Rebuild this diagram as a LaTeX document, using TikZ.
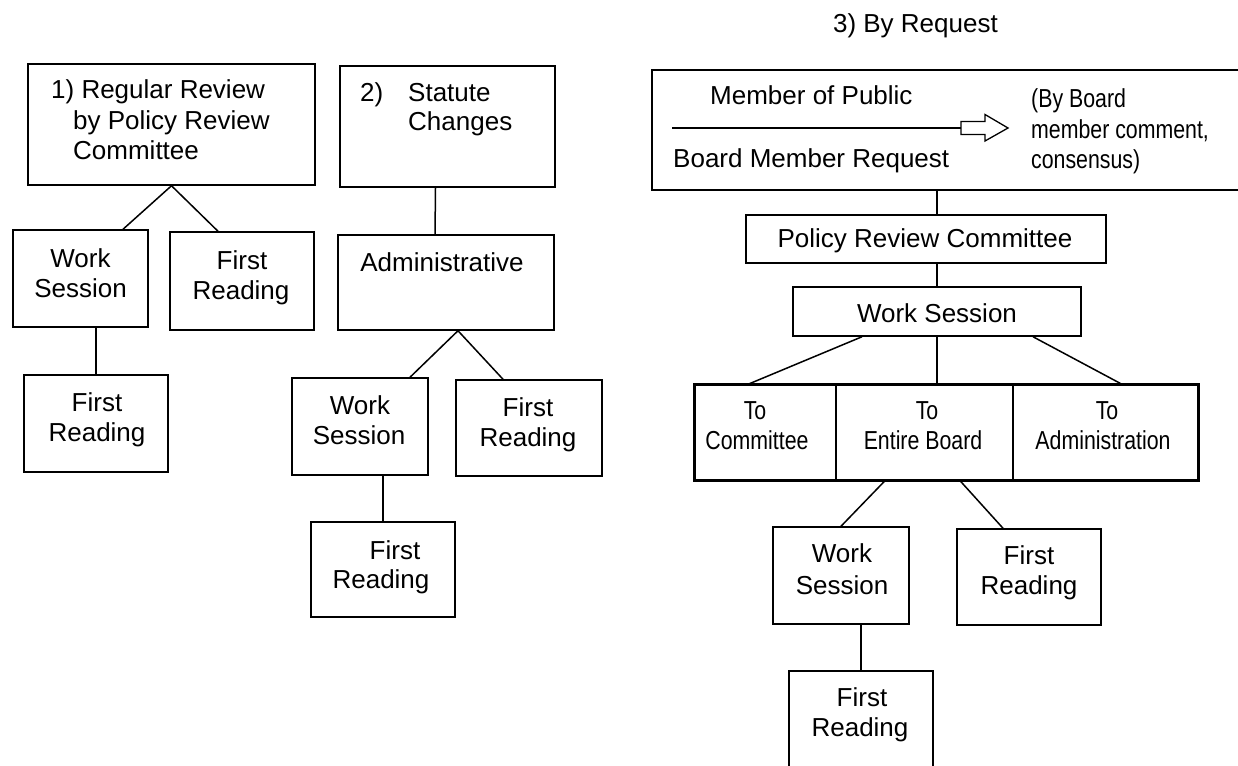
\documentclass[tikz,border=0pt]{standalone}
\usepackage{fontspec}
\setmainfont{Liberation Sans}
\newfontfamily\narrowfam[FakeStretch=0.82]{Liberation Sans}
\usetikzlibrary{calc}
\begin{document}
\begin{tikzpicture}[x=1pt,y=-1pt,
  box/.style 2 args={draw,line width=1.5pt,inner sep=0pt,minimum width=#1,minimum height=#2},
  frame/.style 2 args={inner sep=0pt,minimum width=#1,minimum height=#2},
  cell/.style 2 args={draw,line width=1.4pt,inner sep=0pt,minimum width=#1,minimum height=#2},
  conn/.style={line width=1.5pt},
  tc/.style={inner sep=0pt,anchor=base,font=\fontsize{26}{31}\selectfont},
  tl/.style={inner sep=0pt,anchor=base west,font=\fontsize{26}{31}\selectfont},
  nc/.style={inner sep=0pt,anchor=base,font=\narrowfam\fontsize{26}{30}\selectfont},
  nl/.style={inner sep=0pt,anchor=base west,font=\narrowfam\fontsize{26}{30}\selectfont}]
\useasboundingbox (0,0) rectangle (1238,765);
\fill[white] (0,0) rectangle (1238,765);

% ---------- group 1 ----------
\node[box={287pt}{121pt}] (b1) at (171.5,124.5) {};
\node[tl] (t1a) at (51,99) {1) Regular Review};
\node[tl] (t1b) at (73,129) {by Policy Review};
\node[tl] (t1c) at (73,159) {Committee};

\node[box={135pt}{97pt}] (ws1) at (80.5,278.5) {};
\node[tc] (ws1a) at (80.5,267) {Work};
\node[tc] (ws1b) at (80.5,297) {Session};

\node[box={144pt}{98pt}] (fr1a) at (242,281) {};
\node[tc] (fr1aa) at (242,269) {First};
\node[tc] (fr1ab) at (241,299) {Reading};

\node[box={144pt}{97pt}] (fr1b) at (96,423.5) {};
\node[tc] (fr1ba) at (97,411) {First};
\node[tc] (fr1bb) at (97,441) {Reading};

\draw[conn] (b1.south) -- ([xshift=42.5pt]ws1.north);
\draw[conn] (b1.south) -- ([xshift=-24pt]fr1a.north);
\draw[conn] (fr1b.north |- ws1.south) -- (fr1b.north);

% ---------- group 2 ----------
\node[box={215pt}{121pt}] (b2) at (447.5,126.5) {};
\node[tl] (t2a) at (360,102) {2)};
\node[tl] (t2b) at (408,102) {Statute};
\node[tl] (t2c) at (408,131) {Changes};

\node[box={216pt}{95pt}] (adm) at (446,282.5) {};
\node[tc] (admt) at (442,271) {Administrative};

\node[box={136pt}{97pt}] (wsm) at (360,426.5) {};
\node[tc] (wsma) at (360,414) {Work};
\node[tc] (wsmb) at (359,444) {Session};

\node[box={146pt}{96pt}] (frm) at (529,428) {};
\node[tc] (frma) at (528,416) {First};
\node[tc] (frmb) at (528,446) {Reading};

\node[box={144pt}{95pt}] (frm2) at (383,569.5) {};
\node[tc] (frm2a) at (395,559) {First};
\node[tc] (frm2b) at (381,588) {Reading};

\draw[conn] ([xshift=-12pt]b2.south) -- ([xshift=-11pt]adm.north);
\draw[conn] ([xshift=12pt]adm.south) -- ([xshift=50pt]wsm.north);
\draw[conn] ([xshift=12pt]adm.south) -- ([xshift=-26pt]frm.north);
\draw[conn] (frm2.north |- wsm.south) -- (frm2.north);

% ---------- group 3 ----------
\node[tl,anchor=base east] (title) at (998,33) {3) By Request};

\node[frame={590pt}{120pt}] (big) at (947,130) {};
\draw[conn] (big.north east) -- (big.north west) -- (big.south west) -- (big.south east);
\node[tl] (mp) at (710,105) {Member of Public};
\node[tl] (bmr) at (673,167) {Board Member Request};
\coordinate (ls) at (672,128);
\coordinate (le) at (961,128);
\draw[line width=1.2pt] (ls) -- (le);
\draw[line width=1.3pt,fill=white] (le) ++(0,-6.5) -- ++(24,0) -- ++(0,-7) -- (1008,128)
  -- (985,141) -- ++(0,-6.5) -- ++(-24,0) -- cycle;
\node[nl] (rt1) at (1031,107) {(By Board};
\node[nl] (rt2) at (1031,138) {member comment,};
\node[nl] (rt3) at (1031,168) {consensus)};

\node[box={360pt}{48pt}] (prc) at (926,239) {};
\node[tc] (prct) at (925,247) {Policy Review Committee};

\node[box={288pt}{49pt}] (ws) at (937,311.5) {};
\node[tc] (wst) at (937,322) {Work Session};

\draw[conn] (ws.north |- big.south) -- (ws.north |- prc.north);
\draw[conn] (ws.north |- prc.south) -- (ws.north);

\node[cell={141pt}{95pt}] (c1) at (765.5,432.5) {};
\node[cell={177pt}{95pt}] (c2) at (924.5,432.5) {};
\node[cell={185pt}{95pt}] (c3) at (1105.5,432.5) {};
\draw[line width=2.8pt] (c1.north west) rectangle (c3.south east);
\node[nc] (c1a) at (755,419) {To};
\node[nc] (c1b) at (757,449) {Committee};
\node[nc] (c2a) at (927,419) {To};
\node[nc] (c2b) at (923,449) {Entire Board};
\node[nc] (c3a) at (1107,419) {To};
\node[nc] (c3b) at (1103,449) {Administration};

\draw[conn] ([xshift=-75pt]ws.south) -- ([xshift=-17.5pt]c1.north);
\draw[conn] (ws.south) -- (ws.south |- c2.north);
\draw[conn] ([xshift=96pt]ws.south) -- ([xshift=16.5pt]c3.north);

\node[box={136pt}{97pt}] (ws2) at (841,575.5) {};
\node[tc] (ws2a) at (842,562) {Work};
\node[tc] (ws2b) at (842,594) {Session};

\node[box={144pt}{96pt}] (fr2) at (1029,577) {};
\node[tc] (fr2a) at (1029,564) {First};
\node[tc] (fr2b) at (1029,594) {Reading};

\node[frame={144pt}{100pt}] (fr3) at (861,721) {};
\draw[conn] (fr3.south west) -- (fr3.north west) -- (fr3.north east) -- (fr3.south east);
\node[tc] (fr3a) at (862,706) {First};
\node[tc] (fr3b) at (860,736) {Reading};

\draw[conn] ([xshift=-39.5pt]c2.south) -- (ws2.north);
\draw[conn] ([xshift=35.5pt]c2.south) -- ([xshift=-26pt]fr2.north);
\draw[conn] (fr3.north |- ws2.south) -- (fr3.north);
\end{tikzpicture}
\end{document}
